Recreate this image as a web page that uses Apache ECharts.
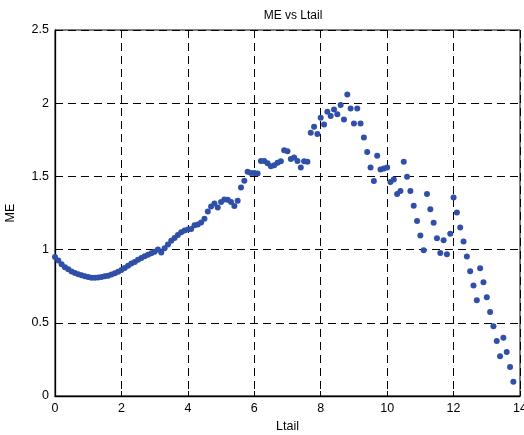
<!DOCTYPE html>
<html>
<head>
<meta charset="utf-8">
<script src="https://cdn.jsdelivr.net/npm/echarts@6/dist/echarts.min.js"></script>
<style>html,body{margin:0;padding:0;background:#fff;}#c{width:524px;height:435px;}</style>
</head>
<body>
<div id="c"></div>
<script>
var ltail = [0.0,0.1,0.2,0.3,0.4,0.5,0.6,0.7,0.8,0.9,1.0,1.1,1.2,1.3,1.4,1.5,1.6,1.7,1.8,1.9,
2.0,2.1,2.2,2.3,2.4,2.5,2.6,2.7,2.8,2.9,3.0,3.1,3.2,3.3,3.4,3.5,3.6,3.7,3.8,3.9,
4.0,4.1,4.2,4.3,4.4,4.5,4.6,4.7,4.8,4.9,5.0,5.1,5.2,5.3,5.4,5.5,5.6,5.7,5.8,5.9,
6.0,6.1,6.2,6.3,6.4,6.5,6.6,6.7,6.8,6.9,7.0,7.1,7.2,7.3,7.4,7.5,7.6,7.7,7.8,7.9,
8.0,8.1,8.2,8.3,8.4,8.5,8.6,8.7,8.8,8.9,9.0,9.1,9.2,9.3,9.4,9.5,9.6,9.7,9.8,9.9,
10.0,10.1,10.2,10.3,10.4,10.5,10.6,10.7,10.8,10.9,11.0,11.1,11.2,11.3,11.4,11.5,11.6,11.7,11.8,11.9,
12.0,12.1,12.2,12.3,12.4,12.5,12.6,12.7,12.8,12.9,13.0,13.1,13.2,13.3,13.4,13.5,13.6,13.7,13.8];
var me = [0.95,0.925,0.90,0.88,0.865,0.85,0.84,0.832,0.825,0.818,0.812,0.808,0.808,0.81,0.812,0.818,0.822,0.83,0.838,0.848,
0.86,0.875,0.89,0.905,0.915,0.93,0.942,0.955,0.965,0.975,0.985,1.0,0.98,1.01,1.035,1.06,1.08,1.10,1.118,1.13,
1.137,1.14,1.167,1.172,1.185,1.21,1.26,1.295,1.315,1.288,1.325,1.342,1.34,1.325,1.297,1.333,1.424,1.47,1.531,1.524,
1.524,1.52,1.606,1.606,1.59,1.57,1.577,1.593,1.604,1.679,1.672,1.618,1.629,1.606,1.561,1.604,1.60,1.798,1.839,1.789,
1.90,1.855,1.941,1.912,1.957,1.925,1.987,1.889,2.06,1.964,1.862,1.964,1.862,1.766,1.666,1.561,1.468,1.641,1.547,1.554,
1.561,1.461,1.479,1.379,1.401,1.60,1.497,1.401,1.299,1.196,1.096,0.996,1.379,1.276,1.183,1.078,0.977,1.064,0.969,1.108,
1.356,1.254,1.151,1.055,0.953,0.852,0.755,0.654,0.872,0.777,0.675,0.573,0.476,0.376,0.272,0.398,0.301,0.198,0.097];
var xTicks = [0,2,4,6,8,10,12,14];
var yTicks = [0,0.5,1,1.5,2,2.5];

var pts = ltail.map(function(x,i){return [x, me[i]];});
var font = 'Liberation Sans, Arial, sans-serif';
var chart = echarts.init(document.getElementById('c'), null, {renderer:'canvas'});
chart.setOption({
  animation:false,
  backgroundColor:'#fff',
  title:{text:'ME vs Ltail', left:288, top:5, textAlign:'center',
    textStyle:{fontFamily:font, fontSize:12, fontWeight:'normal', color:'#000'}},
  grid:{left:55, right:4, top:30, bottom:39, show:true, borderColor:'#000', borderWidth:1,
    containLabel:false, outerBoundsMode:'none'},
  xAxis:{type:'value', min:0, max:14, interval:2,
    name:'Ltail', nameLocation:'middle', nameGap:24,
    nameTextStyle:{fontFamily:font, fontSize:12.5, color:'#000'},
    axisLine:{show:true, onZero:false, lineStyle:{color:'#000', width:1.3}},
    axisTick:{show:true, inside:true, length:5, lineStyle:{color:'#000'}},
    axisLabel:{fontFamily:font, fontSize:12.5, color:'#000', margin:6,
      formatter:function(v){return xTicks.indexOf(v)>=0 ? String(v) : '';}},
    splitLine:{show:true, lineStyle:{color:'#000', type:[8,5], width:1}}},
  yAxis:{type:'value', min:0, max:2.5, interval:0.5,
    name:'ME', nameLocation:'middle', nameGap:38, nameRotate:90,
    nameTextStyle:{fontFamily:font, fontSize:12.5, color:'#000'},
    axisLine:{show:true, onZero:false, lineStyle:{color:'#000', width:1.3}},
    axisTick:{show:true, inside:true, length:5, lineStyle:{color:'#000'}},
    axisLabel:{fontFamily:font, fontSize:12.5, color:'#000', margin:6,
      formatter:function(v){return yTicks.indexOf(v)>=0 ? String(v) : '';}},
    splitLine:{show:true, lineStyle:{color:'#000', type:[8,5], width:1}}},
  series:[{type:'scatter', data:pts, symbol:'circle', symbolSize:6,
    itemStyle:{color:'#2f4fa8', opacity:1}}]
});
</script>
</body>
</html>
